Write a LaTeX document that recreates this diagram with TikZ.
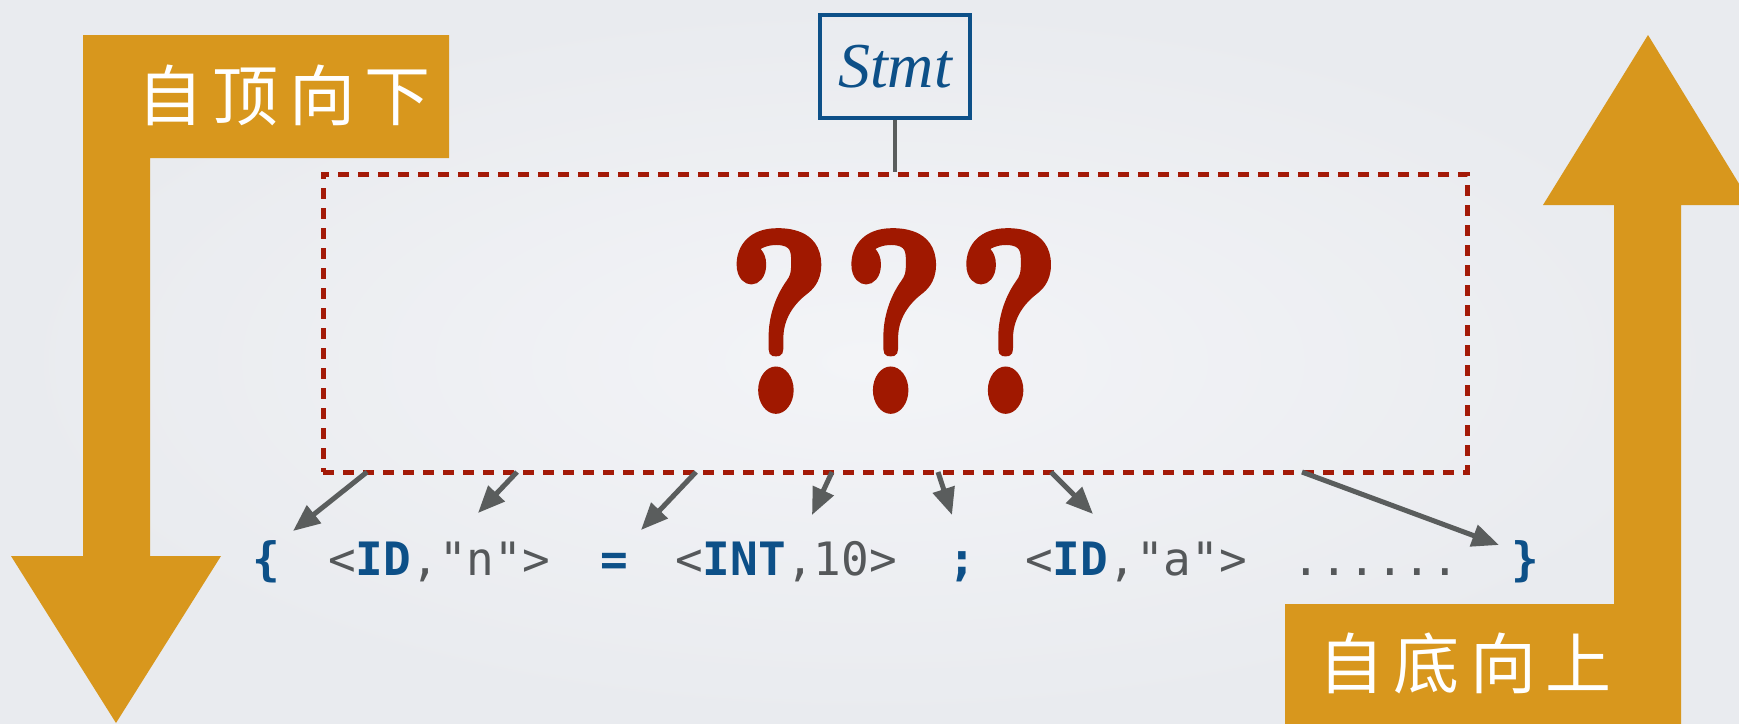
\documentclass[tikz,border=0pt]{standalone}
\usepackage{fontspec}
\usetikzlibrary{arrows.meta}
\newfontfamily\cjk{Noto Sans CJK SC}
\newfontfamily\monof{DejaVu Sans Mono}
\newfontfamily\serifit{Liberation Serif}
\newfontfamily\qmark[FakeBold=3]{Latin Modern Roman}
\definecolor{orng}{RGB}{216,151,29}
\definecolor{dred}{RGB}{163,26,8}
\definecolor{qred}{RGB}{160,24,0}
\definecolor{tblue}{RGB}{13,80,136}
\definecolor{tgray}{RGB}{85,88,90}
\definecolor{agray}{RGB}{90,93,93}
\definecolor{bgin}{RGB}{243,244,247}
\definecolor{bgout}{RGB}{233,235,239}
\begin{document}
\begin{tikzpicture}[x=1pt,y=-1pt,
  tok/.style={anchor=base, inner sep=0pt, font=\monof\fontsize{46}{50}\selectfont, text=tgray},
  btok/.style={tok, font=\monof\bfseries\fontsize{46}{50}\selectfont, text=tblue},
  conn/.style={draw=agray, line width=5pt, -{Triangle[length=27pt,width=22pt]}},
  cjklabel/.style={text=white, inner sep=0pt, font=\cjk\fontsize{66}{70}\selectfont},
  bigarrow/.style={fill=orng}]
\useasboundingbox (0,0) rectangle (1739,723);
\clip (0,0) rectangle (1739,723);
\shade[inner color=bgin, outer color=bgout] (0,0) rectangle (1739,723);

% big arrows
\fill[bigarrow] (83,35) -- (449,35) -- (449,158) -- (150,158) -- (150,556) -- (221,556) -- (116,723) -- (11,556) -- (83,556) -- cycle;
\fill[bigarrow] (1648,35) -- (1752,205) -- (1681,205) -- (1681,730) -- (1285,730) -- (1285,604) -- (1614,604) -- (1614,205) -- (1543,205) -- cycle;
\node[cjklabel] (td) at (284,95) {自\hspace{10pt}顶\hspace{10pt}向\hspace{10pt}下};
\node[cjklabel] (bu) at (1465,663) {自\hspace{10pt}底\hspace{10pt}向\hspace{10pt}上};

% Stmt box
\node[draw=tblue, line width=4pt, minimum width=150pt, minimum height=103pt, inner sep=0pt,
      text=tblue, font=\serifit\itshape\fontsize{64}{68}\selectfont] (stmt) at (895,66.5) {Stmt};

% dashed box
\node[draw=dred, line width=5pt, dash pattern=on 11pt off 9pt, minimum width=1144pt,
      minimum height=298pt, inner sep=0pt] (qbox) at (895,323) {};
\node[inner sep=0pt, text=qred] (qq) at (894,321) {\resizebox{333pt}{178pt}{\qmark\bfseries ?\kern0.06em?\kern0.06em?}};
\draw[draw=agray, line width=4pt] (stmt.south) -- (qbox.north);

% tokens
\node[btok] (lb) at (266,575) {\{};
\node[tok] (n1) at (439,575) {<{\bfseries\color{tblue}ID},"n">};
\node[btok] (eq) at (614,575) {=};
\node[tok] (n2) at (786,575) {<{\bfseries\color{tblue}INT},10>};
\node[btok] (semi) at (962,575) {;};
\node[tok] (n3) at (1136,575) {<{\bfseries\color{tblue}ID},"a">};
\node[tok] (dots) at (1376,575) {......};
\node[btok] (rb) at (1525,575) {\}};

% connectors
\coordinate (s1) at (367,472); \coordinate (t1) at (293,531);
\coordinate (s2) at (517,472); \coordinate (t2) at (478,513);
\coordinate (s3) at (696,472); \coordinate (t3) at (641,530);
\coordinate (s4) at (832,472); \coordinate (t4) at (812,515);
\coordinate (s5) at (938,472); \coordinate (t5) at (952,515);
\coordinate (s6) at (1051,472); \coordinate (t6) at (1093,514);
\coordinate (s7) at (1302,472); \coordinate (t7) at (1499,545);
\foreach \i in {1,...,7} { \draw[conn] (s\i) -- (t\i); }
\end{tikzpicture}
\end{document}
